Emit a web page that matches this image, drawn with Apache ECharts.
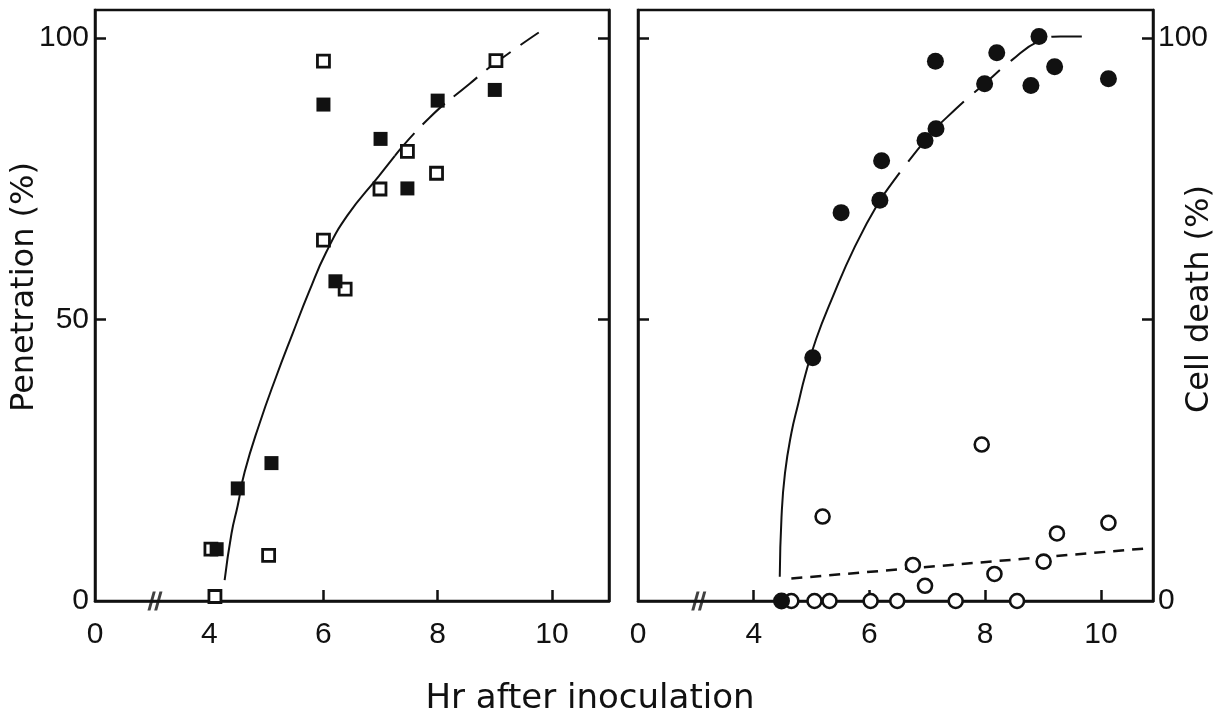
<!DOCTYPE html>
<html>
<head>
<meta charset="utf-8">
<script src="https://cdn.jsdelivr.net/npm/echarts@6/dist/echarts.min.js"></script>
<style>
html,body{margin:0;padding:0;background:#fff;}
#chart{width:1220px;height:716px;}
</style>
</head>
<body>
<div id="chart"></div>
<script>
// ---- tick labels ----
const xTickValues = [2, 4, 6, 8, 10];
const xTickLabels = ['0', '4', '6', '8', '10'];
const xTickMarks = [4, 6, 8, 10];
const yLeftLabelValues = [0, 50, 100];
const yRightLabelValues = [0, 100];
const yTickMarks = [50, 100];
const axisBreakX = [3.05];

// ---- left panel: Penetration (%) ----
const penetrationOpen = [[4.03,9.2],[4.1,0.8],[5.04,8.1],[6,64.1],[6.38,55.4],[6.99,73.2],[7.47,79.9],[7.98,76],[6,95.9],[9.02,96]];
const penetrationFilled = [[4.13,9.2],[4.5,20],[5.09,24.5],[6.21,56.8],[6,88.2],[7,82.1],[7.47,73.3],[8,88.9],[9,90.8]];
const penetrationCurveLow = [[4.27,3.7],[4.39,12],[4.5,17],[4.62,22.9],[4.88,31.5],[5.17,39.8],[5.46,47.5],[5.75,55],[6.05,62],[6.42,68.5],[6.97,75.5],[7.25,79.1]];
const penetrationCurveHigh = [[7.25,79.1],[7.87,86],[8.56,91.9],[9,95.5],[9.77,101]];

// ---- right panel: Cell death (%) ----
const deathFilled = [[4.48,0],[5.02,43.2],[5.51,69],[6.18,71.2],[6.21,78.2],[6.96,81.8],[7.15,83.9],[7.14,95.9],[7.99,91.9],[8.2,97.4],[8.79,91.6],[8.93,100.3],[9.2,94.9],[10.13,92.8]];
const deathOpen = [[4.65,0],[5.05,0],[5.31,0],[6.02,0],[6.48,0],[7.49,0],[8.55,0],[5.19,15],[6.75,6.4],[6.96,2.7],[7.94,27.8],[8.16,4.8],[9.01,7],[9.24,12],[10.13,13.9]];
const deathCurveLow = [[4.45,4.3],[4.48,14.9],[4.54,22.7],[4.65,29.8],[4.77,35.1],[4.89,40.1],[5.08,46.6],[5.34,53.4],[5.75,63],[6.18,71.2]];
const deathCurveHigh = [[6.18,71.2],[6.96,81.8],[7.5,87.5],[7.99,91.9],[8.45,96],[8.93,99.5],[9.3,100.3],[9.67,100.3]];
const deathOpenTrend = [[4.65,4.0],[10.73,9.3]];

const INK = '#111';
const tickFont = {fontFamily: 'Liberation Sans', fontSize: 30, color: INK};

function xAxisFor(gridIndex, max) {
  return {
    type: 'value', gridIndex: gridIndex, min: 2, max: max,
    axisLine: {show: true, lineStyle: {color: INK, width: 2.5}},
    splitLine: {show: false},
    axisTick: {show: true, inside: true, length: 11, customValues: xTickMarks, lineStyle: {color: INK, width: 2.5}},
    axisLabel: Object.assign({
      margin: 19,
      customValues: xTickValues,
      formatter: function (v) { const i = xTickValues.indexOf(v); return i >= 0 ? xTickLabels[i] : ''; }
    }, tickFont)
  };
}
function yAxisFor(gridIndex, position, labelValues, margin) {
  return {
    type: 'value', gridIndex: gridIndex, position: position, min: 0, max: 105,
    axisLine: {show: true, lineStyle: {color: INK, width: 2.5}},
    splitLine: {show: false},
    axisTick: {show: true, inside: true, length: 11, customValues: yTickMarks, lineStyle: {color: INK, width: 2.5}},
    axisLabel: Object.assign({
      show: labelValues.length > 0,
      margin: margin,
      customValues: labelValues.length ? labelValues : [0]
    }, tickFont)
  };
}

const breakSymbol = 'path://M0,20L3.4,20L9.4,0L6,0Z M7.6,20L11,20L17,0L13.6,0Z';

const chart = echarts.init(document.getElementById('chart'), null, {renderer: 'canvas'});
chart.setOption({
  backgroundColor: '#fff',
  animation: false,
  grid: [
    {left: 95, top: 10, width: 514, height: 591, show: true, borderColor: INK, borderWidth: 2.5, backgroundColor: 'transparent'},
    {left: 638, top: 10, width: 515, height: 591, show: true, borderColor: INK, borderWidth: 2.5, backgroundColor: 'transparent'}
  ],
  xAxis: [xAxisFor(0, 11), xAxisFor(1, 10.9)],
  yAxis: [
    yAxisFor(0, 'left', yLeftLabelValues, 6),
    yAxisFor(0, 'right', [], 6),
    yAxisFor(1, 'left', [], 6),
    yAxisFor(1, 'right', yRightLabelValues, 5)
  ],
  graphic: [
    {type: 'text', x: 25, y: 412, rotation: Math.PI / 2,
     style: {text: 'Penetration (%)', font: '32px "DejaVu Sans"', fill: INK, align: 'left', verticalAlign: 'middle'}},
    {type: 'text', x: 1200, y: 413, rotation: Math.PI / 2,
     style: {text: 'Cell death (%)', font: '32px "DejaVu Sans"', fill: INK, align: 'left', verticalAlign: 'middle'}},
    {type: 'text', x: 590, y: 699,
     style: {text: 'Hr after inoculation', font: '34px "DejaVu Sans"', fill: INK, align: 'center', verticalAlign: 'middle'}}
  ],
  series: [
    // left panel
    {type: 'line', xAxisIndex: 0, yAxisIndex: 0, data: penetrationCurveLow, smooth: 0.5, showSymbol: false, z: 2,
     lineStyle: {color: INK, width: 2}},
    {type: 'line', xAxisIndex: 0, yAxisIndex: 0, data: penetrationCurveHigh, smooth: 0.5, showSymbol: false, z: 2,
     lineStyle: {color: INK, width: 2, type: [30, 12]}},
    {type: 'scatter', xAxisIndex: 0, yAxisIndex: 0, data: penetrationOpen, symbol: 'rect', symbolSize: 12, z: 3,
     itemStyle: {color: '#fff', borderColor: INK, borderWidth: 2.8, opacity: 1}},
    {type: 'scatter', xAxisIndex: 0, yAxisIndex: 0, data: penetrationFilled, symbol: 'rect', symbolSize: 14, z: 4,
     itemStyle: {color: INK, opacity: 1}},
    {type: 'scatter', xAxisIndex: 0, yAxisIndex: 0, data: axisBreakX.map(function (x) { return [x, 0]; }), symbol: breakSymbol, symbolSize: [15, 19], z: 5,
     itemStyle: {color: INK}, silent: true},
    // right panel
    {type: 'line', xAxisIndex: 1, yAxisIndex: 2, data: deathCurveLow, smooth: 0.5, showSymbol: false, z: 2,
     lineStyle: {color: INK, width: 2}},
    {type: 'line', xAxisIndex: 1, yAxisIndex: 2, data: deathCurveHigh, smooth: 0.5, showSymbol: false, z: 2,
     lineStyle: {color: INK, width: 2, type: [34, 14]}},
    {type: 'line', xAxisIndex: 1, yAxisIndex: 2, data: deathOpenTrend, showSymbol: false, z: 2,
     lineStyle: {color: INK, width: 2.5, type: [11, 8]}},
    {type: 'scatter', xAxisIndex: 1, yAxisIndex: 2, data: deathOpen, symbol: 'circle', symbolSize: 14, z: 3,
     itemStyle: {color: '#fff', borderColor: INK, borderWidth: 2.6, opacity: 1}},
    {type: 'scatter', xAxisIndex: 1, yAxisIndex: 2, data: deathFilled, symbol: 'circle', symbolSize: 17, z: 4,
     itemStyle: {color: INK, opacity: 1}},
    {type: 'scatter', xAxisIndex: 1, yAxisIndex: 2, data: axisBreakX.map(function (x) { return [x, 0]; }), symbol: breakSymbol, symbolSize: [15, 19], z: 5,
     itemStyle: {color: INK}, silent: true}
  ]
});
</script>
</body>
</html>
